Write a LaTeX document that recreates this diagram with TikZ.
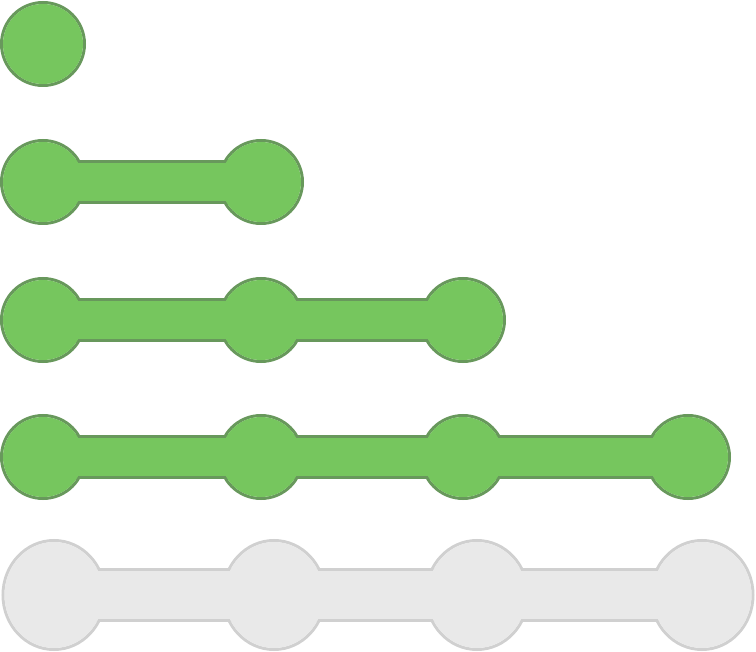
\documentclass[tikz,border=0pt]{standalone}
\definecolor{gfill}{RGB}{118,198,94}
\definecolor{gline}{RGB}{104,152,92}
\definecolor{hfill}{RGB}{233,233,233}
\definecolor{hline}{RGB}{208,208,208}
\begin{document}
\begin{tikzpicture}[x=1pt,y=-1pt]
\useasboundingbox (0,0) rectangle (756,652);
% green rows: stroke pass then fill pass
\def\R{41.5}\def\H{20.5}
\foreach \y/\n in {44/1,182/2,320/3,457/4}{
  \foreach \i/\x in {1/43,2/261,3/463,4/688}{
    \ifnum\i>\n\else
      \draw[gline,line width=3pt] (\x,\y) circle (\R);
    \fi
  }
  \ifnum\n>1 \draw[gline,line width=3pt] (43,\y-\H) rectangle (261,\y+\H); \fi
  \ifnum\n>2 \draw[gline,line width=3pt] (261,\y-\H) rectangle (463,\y+\H); \fi
  \ifnum\n>3 \draw[gline,line width=3pt] (463,\y-\H) rectangle (688,\y+\H); \fi
  \foreach \i/\x in {1/43,2/261,3/463,4/688}{
    \ifnum\i>\n\else
      \fill[gfill] (\x,\y) circle (\R-1.5);
    \fi
  }
  \ifnum\n>1 \fill[gfill] (43,\y-\H+1.5) rectangle (261,\y+\H-1.5); \fi
  \ifnum\n>2 \fill[gfill] (261,\y-\H+1.5) rectangle (463,\y+\H-1.5); \fi
  \ifnum\n>3 \fill[gfill] (463,\y-\H+1.5) rectangle (688,\y+\H-1.5); \fi
}
% gray row
\foreach \x in {54,274,477,702}{
  \draw[hline,line width=3pt] (\x,595) ellipse [x radius=51, y radius=54.5];
}
\draw[hline,line width=3pt] (54,569.5) rectangle (702,620.5);
\foreach \x in {54,274,477,702}{
  \fill[hfill] (\x,595) ellipse [x radius=49.5, y radius=53];
}
\fill[hfill] (54,571) rectangle (702,619);
\end{tikzpicture}
\end{document}
